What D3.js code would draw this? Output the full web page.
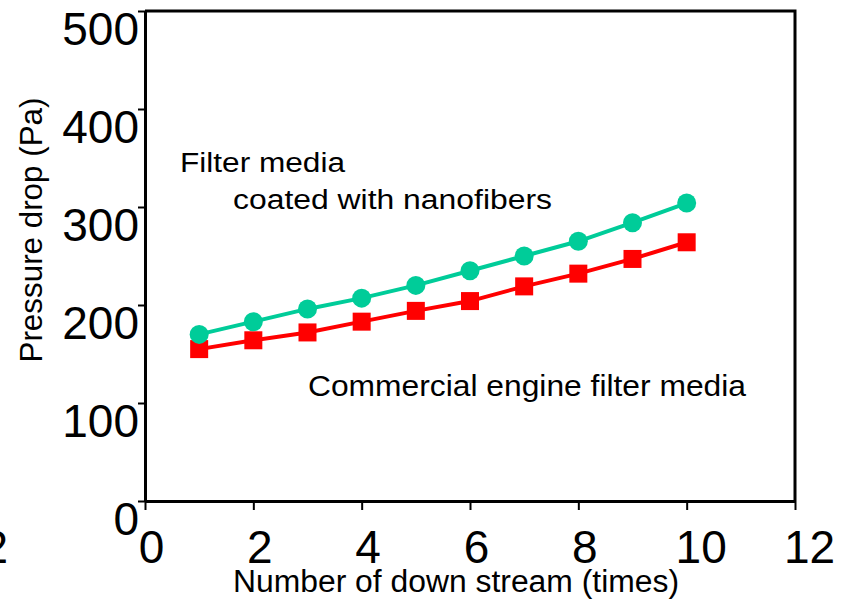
<html>
<head>
	<style>
		body { margin: 0; background: white; }
		svg text { font-family: "Liberation Sans", Arial, sans-serif; fill: black; }
	</style>
	<script src="https://d3js.org/d3.v7.min.js"></script>
</head>
<body>
	<script>
		// Data
		var runs       = [1, 2, 3, 4, 5, 6, 7, 8, 9, 10];
		var nanofiber  = [170, 183, 196, 207, 220, 235, 250, 265, 284, 304];
		var commercial = [155, 164, 172, 183, 194, 204, 219, 232, 247, 264];
		var xTicks     = [0, 2, 4, 6, 8, 10, 12];
		var yTicks     = [0, 100, 200, 300, 400, 500];

		var width = 842, height = 604;

		var x = d3.scaleLinear().domain([0, 12]).range([145, 795]);
		var y = d3.scaleLinear().domain([0, 500]).range([501, 11]);

		var svg = d3.select("body").append("svg")
			.attr("width", width)
			.attr("height", height);

		// frame (top + right)
		svg.append("path")
			.attr("d", "M" + x(0) + "," + y(500) + "H" + x(12) + "V" + y(0))
			.attr("fill", "none")
			.attr("stroke", "black")
			.attr("stroke-width", 3);

		// Y axis
		var yAxis = svg.append("g")
			.attr("transform", "translate(" + x(0) + ",0)")
			.call(d3.axisLeft(y).tickValues(yTicks).tickSize(7).tickSizeOuter(0).tickPadding(0));
		yAxis.select(".domain").attr("stroke-width", 3);
		yAxis.selectAll(".tick line").attr("stroke-width", 2);
		yAxis.selectAll(".tick text")
			.attr("x", -6)
			.attr("dy", 33)
			.style("font-size", "46px");

		// X axis
		var xAxis = svg.append("g")
			.attr("transform", "translate(0," + y(0) + ")")
			.call(d3.axisBottom(x).tickValues(xTicks).tickSize(9).tickSizeOuter(0).tickPadding(0));
		xAxis.select(".domain").attr("stroke-width", 3);
		xAxis.selectAll(".tick line").attr("stroke-width", 2);
		xAxis.selectAll(".tick text")
			.attr("y", 62)
			.attr("dy", 0)
			.attr("x", function(d) { return 6 + (String(d).length - 1) * 8; })
			.style("font-size", "46px");

		// stray label cut at the left edge
		svg.append("text")
			.attr("x", 8).attr("y", 563)
			.attr("text-anchor", "end")
			.style("font-size", "46px")
			.text("2");

		// axis titles
		svg.append("text")
			.attr("transform", "translate(42,230) rotate(-90)")
			.attr("text-anchor", "middle")
			.style("font-size", "31px")
			.attr("textLength", 265)
			.attr("lengthAdjust", "spacingAndGlyphs")
			.text("Pressure drop (Pa)");

		svg.append("text")
			.attr("x", 233).attr("y", 592)
			.style("font-size", "31px")
			.attr("textLength", 446)
			.attr("lengthAdjust", "spacingAndGlyphs")
			.text("Number of down stream (times)");

		// annotations
		var notes = [
			{ t: "Filter media", x: 180, y: 172, s: 27, w: 165 },
			{ t: "coated with nanofibers", x: 233, y: 209, s: 27, w: 319 },
			{ t: "Commercial engine filter media", x: 308, y: 396, s: 30, w: 438 }
		];
		svg.selectAll(".note").data(notes).enter().append("text")
			.attr("class", "note")
			.attr("x", function(d) { return d.x; })
			.attr("y", function(d) { return d.y; })
			.style("font-size", function(d) { return d.s + "px"; })
			.attr("textLength", function(d) { return d.w; })
			.attr("lengthAdjust", "spacingAndGlyphs")
			.text(function(d) { return d.t; });

		var line = d3.line()
			.x(function(d, i) { return x(runs[i]); })
			.y(function(d) { return y(d); });

		// commercial media (red squares)
		svg.append("path")
			.datum(commercial)
			.attr("d", line)
			.attr("fill", "none")
			.attr("stroke", "#ff0000")
			.attr("stroke-width", 4);
		svg.selectAll(".sq").data(commercial).enter().append("rect")
			.attr("class", "sq")
			.attr("x", function(d, i) { return x(runs[i]) - 9; })
			.attr("y", function(d) { return y(d) - 9; })
			.attr("width", 18)
			.attr("height", 18)
			.attr("fill", "#ff0000");

		// nanofiber coated media (green circles)
		svg.append("path")
			.datum(nanofiber)
			.attr("d", line)
			.attr("fill", "none")
			.attr("stroke", "#00cc99")
			.attr("stroke-width", 4);
		svg.selectAll(".dot").data(nanofiber).enter().append("circle")
			.attr("class", "dot")
			.attr("cx", function(d, i) { return x(runs[i]); })
			.attr("cy", function(d) { return y(d); })
			.attr("r", 9.5)
			.attr("fill", "#00cc99");
	</script>
</body>
</html>
